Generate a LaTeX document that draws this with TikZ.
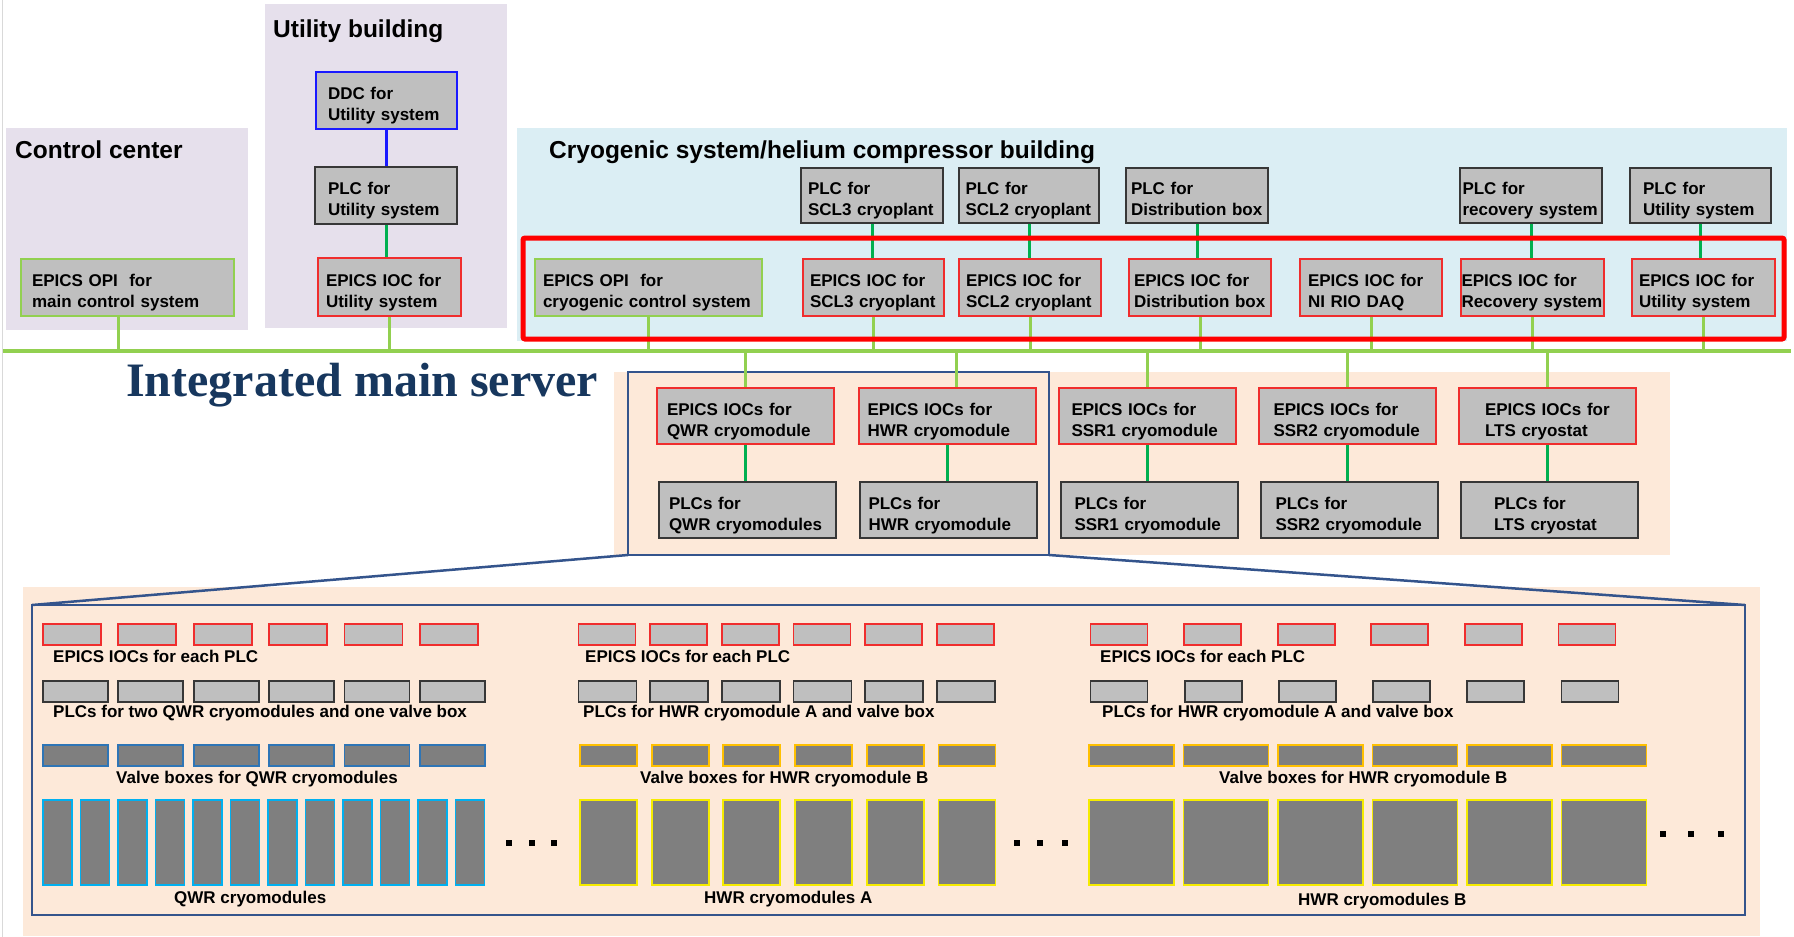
\documentclass[tikz,border=0pt]{standalone}
\usepackage{fontspec}
\setmainfont{Liberation Sans}
\newfontfamily\serifhead{Liberation Serif}
\usetikzlibrary{positioning}
\definecolor{lavender}{RGB}{230,224,236}
\definecolor{iceblue}{RGB}{219,238,244}
\definecolor{peach}{RGB}{253,233,217}
\definecolor{cellgray}{RGB}{191,191,191}
\definecolor{darkcell}{RGB}{127,127,127}
\definecolor{iocred}{RGB}{240,45,45}
\definecolor{plcedge}{RGB}{55,55,55}
\definecolor{lime}{RGB}{146,208,80}
\definecolor{leaf}{RGB}{0,176,80}
\definecolor{ddcblue}{RGB}{25,25,255}
\definecolor{frameblue}{RGB}{52,84,140}
\definecolor{servernavy}{RGB}{23,55,94}
\definecolor{valveblue}{RGB}{46,117,182}
\definecolor{qwrcyan}{RGB}{0,176,240}
\definecolor{amber}{RGB}{255,192,0}
\definecolor{lemon}{RGB}{245,235,0}

\newcommand{\cellfont}{\fontsize{17}{21}\selectfont\bfseries}

\begin{document}
\begin{tikzpicture}[
    x=1pt, y=-1pt,
    cell/.style={draw=#1, fill=cellgray, line width=2pt, inner sep=0pt, align=left,
                 text height=16pt, text depth=18pt, font=\cellfont},
    ioc/.style={cell=iocred},
    plc/.style={cell=plcedge},
    opi/.style={cell=lime},
    unit/.style={draw=#1, line width=1.8pt, inner sep=0pt, anchor=north west},
    title/.style={anchor=base west, inner sep=0pt, font=\fontsize{24.5}{28}\selectfont\bfseries},
    caption/.style={anchor=base west, inner sep=0pt, font=\fontsize{17}{20}\selectfont\bfseries},
    bus/.style={draw=lime, line width=4pt},
    drop/.style={draw=lime, line width=3pt},
    link/.style={draw=leaf, line width=3pt},
    zoomline/.style={draw=frameblue, line width=2.5pt}
]
\fill[white] (0,0) rectangle (1794,937);
\useasboundingbox (0,0) rectangle (1794,937);
\draw[black!15, line width=1pt] (2,0) -- (2,937);

% --- Control center ---
\fill[lavender] (6,128) rectangle (248,330);
\node[title] (ccTitle) at (15,158) {Control center};
\node[opi, minimum width=213pt, minimum height=57pt, text width=191pt] (opiMain) at (127.5,287.5) {EPICS OPI~ for\\main control system};

% --- Utility building ---
\fill[lavender] (265,4) rectangle (507,328);
\node[title] (ubTitle) at (273,37) {Utility building};
\node[cell=ddcblue, minimum width=141pt, minimum height=57pt, text width=117pt] (ddc) at (386.5,100.5) {DDC for\\Utility system};
\node[plc, minimum width=142pt, minimum height=57pt, text width=116pt] (plcUtil) at (386,195.5) {PLC for\\Utility system};
\node[ioc, minimum width=143pt, minimum height=58pt, text width=127pt] (iocUtil) at (389.5,287) {EPICS IOC for\\Utility system};

% --- Cryogenic system/helium compressor building ---
\fill[iceblue] (517,128) rectangle (1787,341);
\node[title] (cryoTitle) at (549,158) {Cryogenic system/helium compressor building};

\node[plc, minimum width=142pt, minimum height=55pt, text width=128pt] (plcSCL3) at (872,195.5) {PLC for\\SCL3 cryoplant};
\node[plc, minimum width=140pt, minimum height=55pt, text width=127pt] (plcSCL2) at (1029,195.5) {PLC for\\SCL2 cryoplant};
\node[plc, minimum width=142pt, minimum height=55pt, text width=132pt] (plcDist) at (1197,195.5) {PLC for\\Distribution box};
\node[plc, minimum width=142pt, minimum height=55pt, text width=137pt] (plcRec) at (1531,195.5) {PLC for\\recovery system};
\node[plc, minimum width=141pt, minimum height=55pt, text width=115pt] (plcUtil2) at (1700.5,195.5) {PLC for\\Utility system};

\node[opi, minimum width=227pt, minimum height=57pt, text width=211pt] (opiCryo) at (648.5,287.5) {EPICS OPI~ for\\cryogenic control system};
\node[ioc, minimum width=141pt, minimum height=57pt, text width=127pt] (iocSCL3) at (873.5,287.5) {EPICS IOC for\\SCL3 cryoplant};
\node[ioc, minimum width=142pt, minimum height=57pt, text width=128pt] (iocSCL2) at (1030,287.5) {EPICS IOC for\\SCL2 cryoplant};
\node[ioc, minimum width=142pt, minimum height=57pt, text width=132pt] (iocDist) at (1200,287.5) {EPICS IOC for\\Distribution box};
\node[ioc, minimum width=142pt, minimum height=57pt, text width=126pt] (iocNI) at (1371,287.5) {EPICS IOC for\\NI RIO DAQ};
\node[ioc, minimum width=143pt, minimum height=57pt, text width=142pt] (iocRec) at (1532.5,287.5) {EPICS IOC for\\Recovery system};
\node[ioc, minimum width=143pt, minimum height=57pt, text width=129pt] (iocUtil2) at (1703.5,287.5) {EPICS IOC for\\Utility system};

% --- Integrated main server ---
\coordinate (busL) at (3,351);
\coordinate (busR) at (1791,351);
\node[anchor=base west, inner sep=0pt, text=servernavy, font={\fontsize{48}{52}\selectfont\serifhead\bfseries}] (server) at (126,396) {Integrated main server};

% --- Cryomodule controllers ---
\fill[peach] (614,372) rectangle (1670,555);
\draw[zoomline] (628,372) rectangle (1049,555);

\node[ioc, minimum width=177pt, minimum height=56pt, text width=157pt] (iocQWR) at (745.5,416) {EPICS IOCs for\\QWR cryomodule};
\node[ioc, minimum width=177pt, minimum height=56pt, text width=159pt] (iocHWR) at (947,416) {EPICS IOCs for\\HWR cryomodule};
\node[ioc, minimum width=177pt, minimum height=56pt, text width=151pt] (iocSSR1) at (1147,416) {EPICS IOCs for\\SSR1 cryomodule};
\node[ioc, minimum width=177pt, minimum height=56pt, text width=148pt] (iocSSR2) at (1347.5,416) {EPICS IOCs for\\SSR2 cryomodule};
\node[ioc, minimum width=177pt, minimum height=56pt, text width=125pt] (iocLTS) at (1547.5,416) {EPICS IOCs for\\LTS cryostat};

\node[plc, minimum width=177pt, minimum height=56pt, text width=157pt] (plcQWR) at (747.5,510) {PLCs for\\QWR cryomodules};
\node[plc, minimum width=177pt, minimum height=56pt, text width=159pt] (plcHWR) at (948,510) {PLCs for\\HWR cryomodule};
\node[plc, minimum width=177pt, minimum height=56pt, text width=149pt] (plcSSR1) at (1149,510) {PLCs for\\SSR1 cryomodule};
\node[plc, minimum width=177pt, minimum height=56pt, text width=147pt] (plcSSR2) at (1349,510) {PLCs for\\SSR2 cryomodule};
\node[plc, minimum width=177pt, minimum height=56pt, text width=111pt] (plcLTS) at (1549.5,510) {PLCs for\\LTS cryostat};

% connections
\draw[ddcblue, line width=3pt] (ddc.south) -- (ddc.south |- plcUtil.north);
\draw[link] (plcUtil.south) -- (plcUtil.south |- iocUtil.north);
\foreach \p/\q in {plcSCL3/iocSCL3, plcSCL2/iocSCL2, plcDist/iocDist, plcRec/iocRec, plcUtil2/iocUtil2}
    \draw[link] (\p.south) -- (\p.south |- \q.north);
\draw[drop] ([xshift=-9.5pt]opiMain.south) -- ([xshift=-9.5pt]opiMain.south |- busL);
\draw[drop] (iocUtil.south) -- (iocUtil.south |- busL);
\foreach \n in {opiCryo, iocSCL3, iocSCL2, iocDist, iocNI, iocRec, iocUtil2}
    \draw[drop] (\n.south) -- (\n.south |- busL);
\foreach \q/\p in {iocQWR/plcQWR, iocSSR1/plcSSR1, iocSSR2/plcSSR2, iocLTS/plcLTS} {
    \draw[drop] (\q.north |- busL) -- (\q.north);
    \draw[link] (\q.south) -- (\q.south |- \p.north);
}
\draw[drop] ([xshift=9pt]iocHWR.north |- busL) -- ([xshift=9pt]iocHWR.north);
\draw[link] (iocHWR.south) -- (iocHWR.south |- plcHWR.north);

\draw[red, line width=5pt, rounded corners=2pt] (523,238) rectangle (1784,339);
\draw[bus] (busL) -- (busR);

% --- Cryomodules and valve boxes ---
\fill[peach] (23,587) rectangle (1760,936);
\draw[zoomline] (32,605) rectangle (1745,915);
\draw[zoomline] (628,555) -- (32,605);
\draw[zoomline] (1049,555) -- (1745,605);

% QWR
\foreach \i in {0,...,5} {
    \node[unit=iocred, fill=cellgray, minimum width=58pt, minimum height=21pt] (qwrIoc\i) at ({42+75.4*\i},623) {};
    \node[unit=plcedge, fill=cellgray, minimum width=65pt, minimum height=21pt] (qwrPlc\i) at ({42+75.4*\i},680) {};
    \node[unit=valveblue, fill=darkcell, minimum width=65pt, minimum height=21pt] (qwrValve\i) at ({42+75.4*\i},744) {};
}
\foreach \i in {0,...,11}
    \node[unit=qwrcyan, fill=darkcell, minimum width=29pt, minimum height=85pt] (qwrCm\i) at ({42+37.5*\i},799) {};
\node[caption] (qwrIocText) at (53,662) {EPICS IOCs for each PLC};
\node[caption] (qwrPlcText) at (53,717) {PLCs for two QWR cryomodules and one valve box};
\node[caption] (qwrValveText) at (116,783) {Valve boxes for QWR cryomodules};
\node[caption] (qwrCmText) at (174,903) {QWR cryomodules};
\foreach \x in {509,532,554}
    \fill (\x-3,840) rectangle ++(6,6);

% HWR A
\foreach \i in {0,...,5} {
    \node[unit=iocred, fill=cellgray, minimum width=57pt, minimum height=21pt] (hwaIoc\i) at ({577.5+71.7*\i},623) {};
    \node[unit=plcedge, fill=cellgray, minimum width=58pt, minimum height=21pt] (hwaPlc\i) at ({577.5+71.7*\i},680) {};
    \node[unit=amber, fill=darkcell, minimum width=57pt, minimum height=21pt] (hwaValve\i) at ({579+71.7*\i},744) {};
    \node[unit=lemon, fill=darkcell, minimum width=57pt, minimum height=85pt] (hwaCm\i) at ({579+71.7*\i},799) {};
}
\node[caption] (hwaIocText) at (585,662) {EPICS IOCs for each PLC};
\node[caption] (hwaPlcText) at (583,717) {PLCs for HWR cryomodule A and valve box};
\node[caption] (hwaValveText) at (640,783) {Valve boxes for HWR cryomodule B};
\node[caption] (hwaCmText) at (704,903) {HWR cryomodules A};
\foreach \x in {1017,1040,1065}
    \fill (\x-3,840) rectangle ++(6,6);

% HWR B
\foreach \i in {0,...,5} {
    \node[unit=iocred, fill=cellgray, minimum width=57pt, minimum height=21pt] (hwbIoc\i) at ({1089.5+93.6*\i},623) {};
    \node[unit=plcedge, fill=cellgray, minimum width=57pt, minimum height=21pt] (hwbPlc\i) at ({1089.5+94.2*\i},680) {};
    \node[unit=amber, fill=darkcell, minimum width=85pt, minimum height=21pt] (hwbValve\i) at ({1088+94.5*\i},744) {};
    \node[unit=lemon, fill=darkcell, minimum width=85pt, minimum height=85pt] (hwbCm\i) at ({1088+94.5*\i},799) {};
}
\node[caption] (hwbIocText) at (1100,662) {EPICS IOCs for each PLC};
\node[caption] (hwbPlcText) at (1102,717) {PLCs for HWR cryomodule A and valve box};
\node[caption] (hwbValveText) at (1219,783) {Valve boxes for HWR cryomodule B};
\node[caption] (hwbCmText) at (1298,905) {HWR cryomodules B};
\foreach \x in {1663,1691,1721}
    \fill (\x-3,831) rectangle ++(6,6);

\end{tikzpicture}
\end{document}
